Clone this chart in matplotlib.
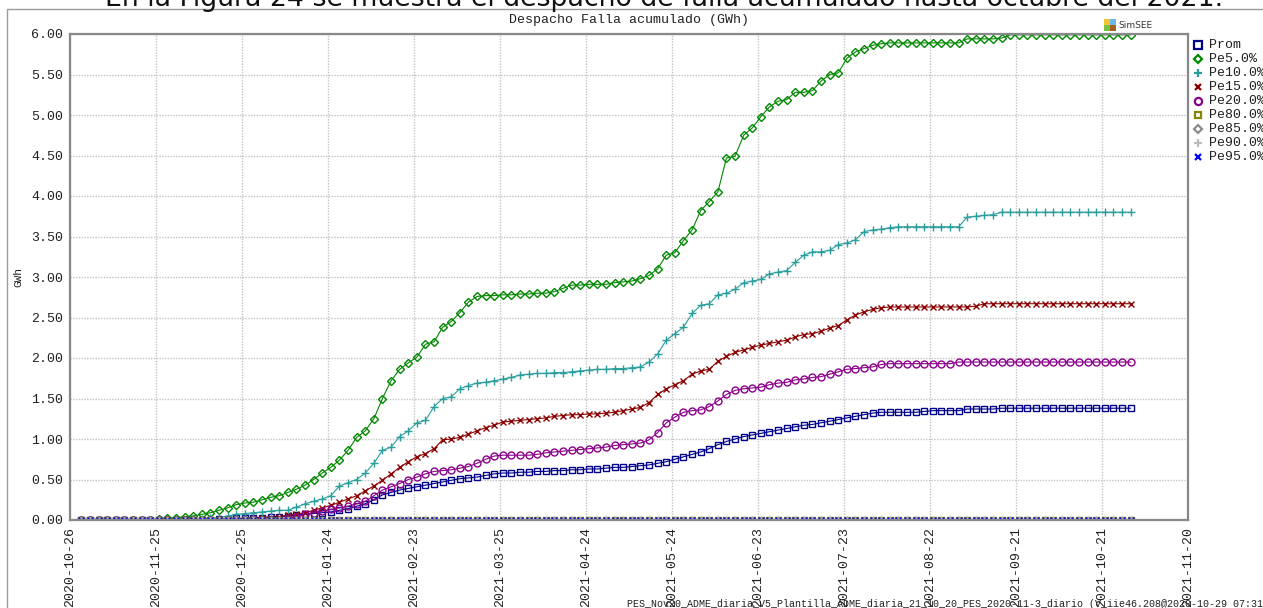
import pandas as pd
import matplotlib
matplotlib.use("Agg")
import matplotlib.pyplot as plt
import matplotlib.dates as mdates
from matplotlib.lines import Line2D
from matplotlib.patches import Rectangle

# Fechas de las crónicas (paso de 3 días)
fechas = pd.date_range("2020-10-30", "2021-10-31", freq="3D")

# Energía de falla acumulada (GWh)
prom = [0.0] * 16 + [
    0.01, 0.01, 0.02,
    0.02, 0.03, 0.03, 0.04, 0.04, 0.05, 0.06, 0.07, 0.08, 0.09,
    0.10, 0.12, 0.14, 0.17, 0.20, 0.25, 0.31, 0.34, 0.37, 0.39,
    0.41, 0.43, 0.45, 0.47, 0.49, 0.51, 0.52, 0.53, 0.55, 0.57,
    0.58, 0.58, 0.59, 0.59, 0.60, 0.60, 0.61, 0.61, 0.62, 0.62,
    0.63, 0.63, 0.64, 0.65, 0.65, 0.66, 0.67, 0.68, 0.70, 0.72,
    0.75, 0.78, 0.81, 0.84, 0.88, 0.93, 0.97, 1.00, 1.03, 1.05,
    1.07, 1.09, 1.11, 1.13, 1.15, 1.17, 1.18, 1.20, 1.22, 1.24,
    1.26, 1.28, 1.30, 1.32, 1.33, 1.33, 1.33, 1.33, 1.33, 1.34,
    1.35, 1.35, 1.35, 1.35, 1.37, 1.37, 1.37, 1.37, 1.38, 1.38,
] + [1.38] * 14

pe5 = [0.0] * 9 + [
    0.01, 0.02, 0.03, 0.04, 0.05, 0.07, 0.09, 0.12, 0.15, 0.19,
    0.21, 0.22, 0.25, 0.28, 0.30, 0.34, 0.38, 0.43, 0.50, 0.58,
    0.65, 0.74, 0.86, 1.02, 1.10, 1.25, 1.50, 1.72, 1.86, 1.94,
    2.01, 2.17, 2.20, 2.38, 2.45, 2.56, 2.69, 2.76, 2.77, 2.77,
    2.78, 2.78, 2.79, 2.79, 2.80, 2.80, 2.82, 2.86, 2.90, 2.90,
    2.91, 2.91, 2.91, 2.93, 2.94, 2.95, 2.98, 3.02, 3.10, 3.27,
    3.30, 3.45, 3.58, 3.82, 3.93, 4.05, 4.47, 4.49, 4.75, 4.84,
    4.98, 5.10, 5.17, 5.19, 5.28, 5.28, 5.30, 5.42, 5.50, 5.52,
    5.70, 5.78, 5.82, 5.86, 5.88, 5.89, 5.89, 5.89, 5.89, 5.89,
    5.89, 5.89, 5.89, 5.89, 5.94, 5.94, 5.94, 5.94, 5.95, 5.99,
] + [5.99] * 14

pe10 = [0.0] * 13 + [
    0.01, 0.01, 0.02, 0.03, 0.05, 0.07,
    0.08, 0.09, 0.10, 0.11, 0.12, 0.12, 0.16, 0.20, 0.23, 0.26,
    0.30, 0.42, 0.46, 0.50, 0.58, 0.70, 0.86, 0.90, 1.03, 1.10,
    1.20, 1.23, 1.40, 1.50, 1.52, 1.62, 1.66, 1.69, 1.70, 1.72,
    1.74, 1.76, 1.79, 1.80, 1.81, 1.81, 1.82, 1.82, 1.83, 1.84,
    1.85, 1.86, 1.86, 1.87, 1.87, 1.88, 1.89, 1.95, 2.05, 2.22,
    2.30, 2.38, 2.55, 2.65, 2.67, 2.78, 2.80, 2.85, 2.93, 2.95,
    2.97, 3.04, 3.06, 3.08, 3.18, 3.27, 3.31, 3.31, 3.33, 3.40,
    3.42, 3.46, 3.56, 3.58, 3.59, 3.61, 3.62, 3.62, 3.62, 3.62,
    3.62, 3.62, 3.62, 3.62, 3.74, 3.75, 3.76, 3.77, 3.80, 3.80,
] + [3.80] * 14

pe15 = [0.0] * 20 + [
    0.01, 0.02, 0.03, 0.04, 0.06, 0.07, 0.09, 0.12, 0.15,
    0.18, 0.22, 0.26, 0.30, 0.36, 0.42, 0.49, 0.57, 0.65, 0.72,
    0.78, 0.82, 0.88, 0.99, 1.00, 1.02, 1.06, 1.10, 1.14, 1.17,
    1.21, 1.22, 1.23, 1.24, 1.25, 1.26, 1.28, 1.29, 1.30, 1.30,
    1.31, 1.31, 1.32, 1.33, 1.35, 1.37, 1.39, 1.45, 1.55, 1.62,
    1.67, 1.72, 1.80, 1.84, 1.86, 1.96, 2.02, 2.07, 2.10, 2.13,
    2.16, 2.18, 2.20, 2.22, 2.26, 2.29, 2.30, 2.33, 2.37, 2.40,
    2.47, 2.53, 2.57, 2.60, 2.62, 2.63, 2.63, 2.63, 2.63, 2.63,
    2.63, 2.63, 2.63, 2.63, 2.63, 2.64, 2.67, 2.67, 2.67, 2.67,
] + [2.67] * 14

pe20 = [0.0] * 24 + [
    0.02, 0.04, 0.07, 0.09, 0.11,
    0.13, 0.15, 0.17, 0.20, 0.23, 0.30, 0.37, 0.41, 0.45, 0.50,
    0.53, 0.57, 0.60, 0.61, 0.62, 0.64, 0.66, 0.70, 0.75, 0.79,
    0.80, 0.80, 0.80, 0.80, 0.81, 0.83, 0.84, 0.85, 0.86, 0.87,
    0.88, 0.89, 0.90, 0.92, 0.93, 0.94, 0.95, 0.99, 1.08, 1.20,
    1.27, 1.33, 1.35, 1.36, 1.40, 1.47, 1.55, 1.60, 1.62, 1.63,
    1.64, 1.67, 1.69, 1.70, 1.73, 1.74, 1.76, 1.77, 1.80, 1.83,
    1.86, 1.87, 1.88, 1.89, 1.92, 1.93, 1.93, 1.93, 1.93, 1.93,
    1.93, 1.93, 1.93, 1.95, 1.95, 1.95, 1.95, 1.95, 1.95, 1.95,
] + [1.95] * 14

# Los percentiles altos no registran falla en todo el horizonte
pe80 = [0.0] * len(fechas)
pe85 = [0.0] * len(fechas)
pe90 = [0.0] * len(fechas)
pe95 = [0.0] * len(fechas)

nombres = ["Prom", "Pe5.0%", "Pe10.0%", "Pe15.0%", "Pe20.0%",
           "Pe80.0%", "Pe85.0%", "Pe90.0%", "Pe95.0%"]
valores = [prom, pe5, pe10, pe15, pe20, pe80, pe85, pe90, pe95]
colores = ["#00008b", "#008800", "#2a9d9d", "#8b0000", "#8b008b",
           "#888800", "#8c8c8c", "#bdbdbd", "#0000ff"]
marcas = ["s", "D", "+", "x", "o", "s", "D", "+", "x"]
tam_marca = [4.8, 3.8, 5.4, 4.6, 5.0, 4.2, 3.4, 5.0, 4.2]
huecas = [True, True, False, False, True, True, True, False, False]

y_ticks = [0.0, 0.5, 1.0, 1.5, 2.0, 2.5, 3.0, 3.5, 4.0, 4.5, 5.0, 5.5, 6.0]
x_ticks = pd.date_range("2020-10-26", "2021-11-20", freq="30D")

MONO = "Liberation Mono"
TXT = "#202020"

W, H = 1263, 608
fig = plt.figure(figsize=(W / 100, H / 100), dpi=100)
fig.patch.set_facecolor("white")


def fx(px):
    return px / W


def fy(py):
    return 1 - py / H


# Marco exterior del gráfico
fig.add_artist(Rectangle((fx(7), fy(640)), fx(1300) - fx(7), fy(9) - fy(640),
                         transform=fig.transFigure, fill=False,
                         edgecolor="#9a9a9a", linewidth=1.0))

# Texto del documento, recortado por el borde superior
fig.text(fx(105), fy(6), "En la Figura 24 se muestra el despacho de falla "
         "acumulado hasta octubre del 2021.", fontsize=19.3,
         family="DejaVu Sans", color="#111111", va="baseline", ha="left")

ax = fig.add_axes([fx(70), fy(520), fx(1188) - fx(70), fy(34) - fy(520)])

for nom, vals, col, mk, ms, hueca in zip(nombres, valores, colores, marcas,
                                         tam_marca, huecas):
    ax.plot(fechas, vals, color=col, linewidth=0.8, marker=mk, markersize=ms,
            markerfacecolor="none" if hueca else col, markeredgecolor=col,
            markeredgewidth=1.0, label=nom)

ax.set_xlim(x_ticks[0], x_ticks[-1])
ax.set_ylim(0, 6)
ax.set_yticks(y_ticks)
ax.set_yticklabels([f"{v:.2f}" for v in y_ticks], family=MONO, fontsize=9.5,
                   color=TXT)
ax.set_xticks(x_ticks)
ax.xaxis.set_major_formatter(mdates.DateFormatter("%Y-%m-%d"))
for lab in ax.get_xticklabels():
    lab.set_rotation(90)
    lab.set_family(MONO)
    lab.set_fontsize(9.5)
    lab.set_color(TXT)
ax.tick_params(axis="both", length=0, pad=5)
ax.grid(True, color="#c4c4c4", linestyle=(0, (1, 1)), linewidth=1.0)
ax.set_axisbelow(True)
for sp in ax.spines.values():
    sp.set_color("#888888")
    sp.set_linewidth(1.6)

ax.set_title("Despacho Falla acumulado (GWh)", family=MONO, fontsize=9.5,
             color=TXT, pad=8)
fig.text(fx(18), fy(277), "GWh", rotation=90, family=MONO, fontsize=8,
         color=TXT, ha="center", va="center")

# Leyenda a la derecha del área de trazado
for i, (nom, col, mk, ms, hueca) in enumerate(zip(nombres, colores, marcas,
                                                  tam_marca, huecas)):
    yy = 45 + 14 * i
    fig.add_artist(Line2D([fx(1198)], [fy(yy)], transform=fig.transFigure,
                          marker=mk, markersize=min(ms, 4.8) + 0.4,
                          linestyle="none",
                          markerfacecolor="none" if hueca else col,
                          markeredgecolor=col, markeredgewidth=1.6))
    fig.text(fx(1209), fy(yy), nom, family=MONO, fontsize=9.5, color=TXT,
             ha="left", va="center")

# Logotipo SimSEE
for (px, py, c) in [(1104, 19, "#f2c531"), (1110, 19, "#6fb6e8"),
                    (1104, 25, "#79c143"), (1110, 25, "#a0621c")]:
    fig.add_artist(Rectangle((fx(px), fy(py + 6)), fx(6), 6 / H,
                             transform=fig.transFigure, color=c, lw=0))
fig.text(fx(1118), fy(26), "SimSEE", family="DejaVu Sans", fontsize=6.5,
         color="#333333", ha="left", va="center")

# Pie con la identificación de la corrida
fig.text(fx(627), fy(604), "PES_Nov20_ADME_diaria_V5_Plantilla_ADME_diaria_"
         "21_10_20_PES_2020-11-3_diario (V_iie46.208@2020-10-29 07:31:12)",
         family=MONO, fontsize=7.2, color=TXT, ha="left", va="center")

fig.savefig("out.png", dpi=100)
